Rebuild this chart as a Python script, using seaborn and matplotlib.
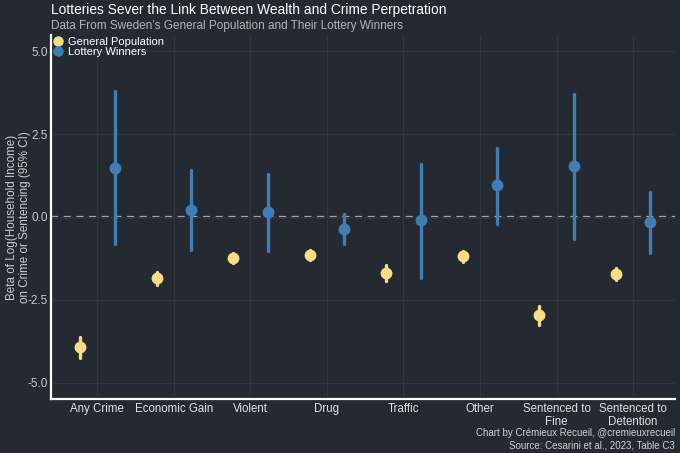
import matplotlib
matplotlib.use("Agg")
import matplotlib.pyplot as plt
from matplotlib.lines import Line2D
import seaborn as sns
import pandas as pd

categories = ["Any Crime", "Economic Gain", "Violent", "Drug", "Traffic", "Other",
              "Sentenced to\nFine", "Sentenced to\nDetention"]
groups = ["General Population", "Lottery Winners"]

gen_est = [-3.93, -1.84, -1.25, -1.15, -1.69, -1.19, -2.97, -1.72]
gen_lo = [-4.26, -2.05, -1.39, -1.29, -1.93, -1.37, -3.26, -1.89]
gen_hi = [-3.61, -1.66, -1.09, -1.01, -1.45, -1.03, -2.70, -1.55]

lot_est = [1.49, 0.21, 0.14, -0.36, -0.10, 0.96, 1.53, -0.16]
lot_lo = [-0.82, -1.01, -1.03, -0.81, -1.83, -0.20, -0.66, -1.08]
lot_hi = [3.79, 1.43, 1.31, 0.08, 1.61, 2.09, 3.70, 0.76]

yticks = [-5.0, -2.5, 0.0, 2.5, 5.0]

rows = []
for g, est, lo, hi in [(groups[0], gen_est, gen_lo, gen_hi),
                       (groups[1], lot_est, lot_lo, lot_hi)]:
    for c, e, l, h in zip(categories, est, lo, hi):
        for v in (l, e, h):
            rows.append({"category": c, "group": g, "beta": v})
df = pd.DataFrame(rows)

BG = "#252a32"
YEL = "#f6dc84"
BLU = "#3f7db5"

sns.set_theme(style="dark")
plt.rcParams["font.family"] = ["Liberation Sans", "DejaVu Sans"]

fig = plt.figure(figsize=(6.8, 4.53), dpi=100, facecolor=BG)
ax = fig.add_axes([0.075, 0.119, 0.918, 0.804])
ax.set_facecolor(BG)

sns.pointplot(data=df, x="category", y="beta", hue="group", order=categories,
              hue_order=groups, palette=[YEL, BLU], estimator="median",
              errorbar=("pi", 100), dodge=0.45, linestyle="none",
              markersize=6.5, err_kws={"linewidth": 2.4}, ax=ax, legend=False)

ax.axhline(0, color="#a9a9a9", linestyle=(0, (3.2, 2.5)), linewidth=1.6, zorder=0.5)

ax.set_ylim(-5.5, 5.5)
ax.set_xlim(-0.605, 7.55)
ax.set_yticks(yticks)
ax.set_yticklabels([f"{t:.1f}" for t in yticks])
ax.grid(True, color="#30353e", linewidth=0.8)
ax.set_axisbelow(True)
ax.tick_params(axis="both", length=0)
ax.tick_params(axis="y", labelsize=8.5, labelcolor="#c8c8c8", pad=2)
ax.tick_params(axis="x", labelsize=8.3, labelcolor="#e0e0e0", pad=3)
for lbl in ax.get_xticklabels():
    lbl.set_linespacing(1.1)

for s in ["top", "right"]:
    ax.spines[s].set_visible(False)
for s in ["left", "bottom"]:
    ax.spines[s].set_visible(True)
    ax.spines[s].set_color("white")
    ax.spines[s].set_linewidth(1.6)

ax.set_xlabel("")
ax.set_ylabel("Beta of Log(Household Income)\non Crime or Sentencing (95% CI)",
              fontsize=8.4, color="#cccccc", linespacing=1.15)
ax.yaxis.set_label_coords(-0.032, 0.5)

handles = [Line2D([], [], marker="o", linestyle="none", markersize=6.5,
                  markerfacecolor=c, markeredgecolor=c) for c in (YEL, BLU)]
leg = ax.legend(handles, groups, loc="upper left", bbox_to_anchor=(0.0, 1.0),
                borderaxespad=0.0, frameon=False, handletextpad=0.35,
                labelspacing=0.0, handlelength=1.0, fontsize=8.0,
                borderpad=0.15)
for t in leg.get_texts():
    t.set_color("white")

fig.text(0.075, 0.978, "Lotteries Sever the Link Between Wealth and Crime Perpetration",
         fontsize=9.9, color="white", ha="left", va="center")
fig.text(0.075, 0.943, "Data From Sweden\u2019s General Population and Their Lottery Winners",
         fontsize=8.45, color="#b4b4b4", ha="left", va="center")
fig.text(0.993, 0.006, "Chart by Cr\u00e9mieux Recueil, @cremieuxrecueil\nSource: Cesarini et al., 2023, Table C3",
         fontsize=7, color="#d0d0d0", ha="right", va="bottom", linespacing=1.25)

fig.savefig("out.png", dpi=100, facecolor=BG)
